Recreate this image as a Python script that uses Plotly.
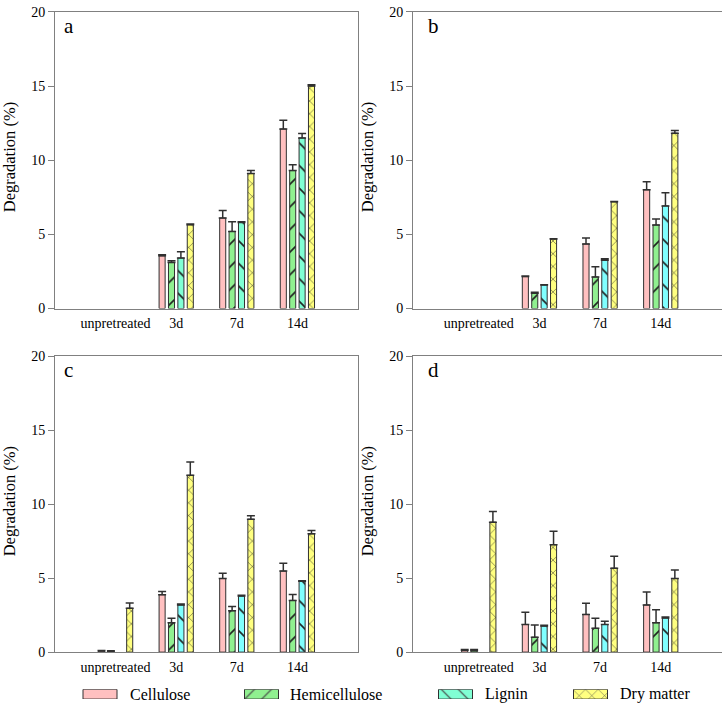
import plotly.graph_objects as go

# ---------------- data ----------------
categories = ["unpretreated", "3d", "7d", "14d"]
series_names = ["Cellulose", "Hemicellulose", "Lignin", "Dry matter"]

# panel a
a_cellulose = [None, 3.55, 6.1, 12.1]
a_cellulose_err = [0, 0.08, 0.5, 0.6]
a_hemicellulose = [None, 3.1, 5.2, 9.3]
a_hemicellulose_err = [0, 0.12, 0.65, 0.4]
a_lignin = [None, 3.4, 5.8, 11.5]
a_lignin_err = [0, 0.42, 0.05, 0.3]
a_drymatter = [None, 5.65, 9.1, 15.0]
a_drymatter_err = [0, 0.05, 0.2, 0.08]

# panel b
b_cellulose = [None, 2.15, 4.35, 8.0]
b_cellulose_err = [0, 0.05, 0.4, 0.55]
b_hemicellulose = [None, 1.03, 2.13, 5.63]
b_hemicellulose_err = [0, 0.07, 0.68, 0.4]
b_lignin = [None, 1.58, 3.25, 6.92]
b_lignin_err = [0, 0.03, 0.1, 0.88]
b_drymatter = [None, 4.68, 7.19, 11.82]
b_drymatter_err = [0, 0.03, 0.03, 0.18]

# panel c
c_cellulose = [0.07, 3.88, 4.98, 5.48]
c_cellulose_err = [0.04, 0.22, 0.35, 0.53]
c_hemicellulose = [0.05, 1.98, 2.8, 3.5]
c_hemicellulose_err = [0.04, 0.31, 0.28, 0.4]
c_lignin = [None, 3.19, 3.79, 4.8]
c_lignin_err = [0, 0.07, 0.05, 0.03]
c_drymatter = [2.97, 11.96, 8.99, 8.0]
c_drymatter_err = [0.36, 0.9, 0.24, 0.22]

# panel d
d_cellulose = [0.12, 1.87, 2.55, 3.19]
d_cellulose_err = [0.06, 0.82, 0.75, 0.88]
d_hemicellulose = [0.1, 1.01, 1.61, 1.98]
d_hemicellulose_err = [0.08, 0.82, 0.68, 0.88]
d_lignin = [None, 1.76, 1.87, 2.31]
d_lignin_err = [0, 0.05, 0.22, 0.07]
d_drymatter = [8.79, 7.27, 5.68, 4.98]
d_drymatter_err = [0.73, 0.9, 0.8, 0.57]

y_ticks = [0, 5, 10, 15, 20]
y_title = "Degradation (%)"
panel_letters = ["a", "b", "c", "d"]

# ---------------- layout helpers ----------------
W, H = 722, 712
FONT = "Liberation Serif"


def fx(px):
    return px / W


def fy(py):
    return 1 - py / H


colors = {
    "Cellulose": "#FFC0C0",
    "Hemicellulose": "#90F090",
    "Lignin": "#80FFFF",
    "Dry matter": "#FFFF80",
}
lignin_a_color = "#80FFD4"
patterns = {
    "Cellulose": ("", 8),
    "Hemicellulose": ("/", 16),
    "Lignin": ("\\", 16),
    "Dry matter": ("x", 9),
}

panels = [
    dict(vals=[a_cellulose, a_hemicellulose, a_lignin, a_drymatter],
         errs=[a_cellulose_err, a_hemicellulose_err, a_lignin_err, a_drymatter_err],
         box=(55, 358, 5, 308), xr=[-1, 4], right=False),
    dict(vals=[b_cellulose, b_hemicellulose, b_lignin, b_drymatter],
         errs=[b_cellulose_err, b_hemicellulose_err, b_lignin_err, b_drymatter_err],
         box=(413, 722, 5, 308), xr=[-1.085, 4.01], right=True),
    dict(vals=[c_cellulose, c_hemicellulose, c_lignin, c_drymatter],
         errs=[c_cellulose_err, c_hemicellulose_err, c_lignin_err, c_drymatter_err],
         box=(55, 358, 357, 659), xr=[-1, 4], right=False),
    dict(vals=[d_cellulose, d_hemicellulose, d_lignin, d_drymatter],
         errs=[d_cellulose_err, d_hemicellulose_err, d_lignin_err, d_drymatter_err],
         box=(413, 722, 357, 659), xr=[-1.085, 4.01], right=True),
]

fig = go.Figure()
layout = {}
annotations = []
AX = "#808080"

for pi, p in enumerate(panels):
    n = "" if pi == 0 else str(pi + 1)
    xa, ya = "x" + n, "y" + n
    for si, name in enumerate(series_names):
        col = colors[name]
        if name == "Lignin" and pi == 0:
            col = lignin_a_color
        shape, size = patterns[name]
        fig.add_trace(go.Bar(
            x=categories, y=p["vals"][si], name=name, showlegend=False,
            xaxis=xa, yaxis=ya,
            marker=dict(color=col, line=dict(color="#303030", width=1),
                        pattern=dict(shape=shape, size=size, solidity=0.1,
                                     fgcolor="#202020", fgopacity=1)),
            error_y=dict(type="data", symmetric=False, array=p["errs"][si],
                         arrayminus=[0] * len(categories), color="#303030",
                         thickness=1.5, width=4),
        ))
    x0, x1, yt, yb = p["box"]
    layout["xaxis" + n] = dict(
        domain=[fx(x0), fx(x1)], anchor=ya, range=p["xr"], showline=True,
        linecolor=AX, linewidth=1, mirror=True, ticks="", showgrid=False,
        zeroline=False, tickfont=dict(family=FONT, size=14, color="black"),
        fixedrange=True, ticklabelstandoff=2,
    )
    layout["yaxis" + n] = dict(
        domain=[fy(yb), fy(yt)], anchor=xa, range=[0, 20], tickvals=y_ticks,
        showline=True, linecolor=AX, linewidth=1, mirror=(not p["right"]),
        ticks="outside", ticklen=6, tickcolor=AX, showgrid=False, zeroline=False,
        tickfont=dict(family=FONT, size=14, color="black"), fixedrange=True,
    )
    # y title
    annotations.append(dict(
        text=y_title, textangle=-90, xref="paper", yref="paper",
        x=fx(x0 - 46), y=fy((yt + yb) / 2 - 3), xanchor="center", yanchor="middle",
        showarrow=False, font=dict(family=FONT, size=16.5, color="black"),
    ))
    # panel letter
    annotations.append(dict(
        text=panel_letters[pi], xref="paper", yref="paper",
        x=fx(x0 + (7 if not p["right"] else 13)), y=fy(yt + 14),
        xanchor="left", yanchor="middle", showarrow=False,
        font=dict(family=FONT, size=21, color="black"),
    ))

# ---------------- custom legend (swatch bars on a hidden strip axis) ----------------
legend_centers = [100, 261.5, 455.5, 590.5]
legend_text_x = [128, 288, 483, 618]
legend_colors = [colors["Cellulose"], colors["Hemicellulose"], lignin_a_color, colors["Dry matter"]]
fig.add_trace(go.Bar(
    x=legend_centers, y=[1, 1, 1, 1], width=[34, 34, 34, 34], showlegend=False,
    xaxis="x5", yaxis="y5", hoverinfo="skip",
    marker=dict(color=legend_colors, line=dict(color="#303030", width=1),
                pattern=dict(shape=["", "/", "\\", "x"], size=[8, 12, 12, 9],
                             solidity=0.1, fgcolor="#202020", fgopacity=1)),
))
layout["xaxis5"] = dict(domain=[0, 1], range=[0, W], visible=False, anchor="y5", fixedrange=True)
layout["yaxis5"] = dict(domain=[fy(707), fy(697)], range=[0, 1], visible=False, anchor="x5", fixedrange=True)
for name, tx in zip(series_names, legend_text_x):
    annotations.append(dict(
        text=name, xref="paper", yref="paper", x=fx(tx), y=fy(702),
        xanchor="left", yanchor="middle", showarrow=False,
        font=dict(family=FONT, size=16, color="black"),
    ))

fig.update_layout(
    width=W, height=H, margin=dict(l=0, r=0, t=0, b=0),
    paper_bgcolor="white", plot_bgcolor="white",
    barmode="group", bargap=0.38, bargroupgap=0.355,
    showlegend=False, annotations=annotations,
    font=dict(family=FONT, color="black"),
    **layout,
)

fig.write_html("out.html", config={"displayModeBar": False},
               post_script="document.body.style.margin='0px';")
